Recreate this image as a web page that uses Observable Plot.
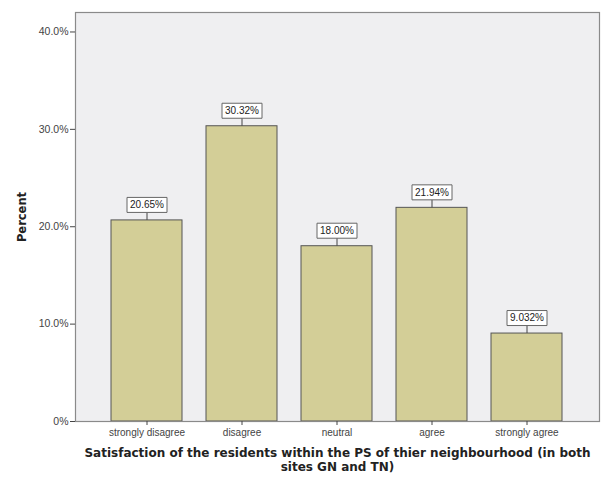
<!DOCTYPE html>
<html>
<head>
<meta charset="utf-8">
<script src="https://cdn.jsdelivr.net/npm/d3@7"></script>
<script src="https://cdn.jsdelivr.net/npm/@observablehq/plot@0.6"></script>
<style>
  html, body { margin: 0; padding: 0; background: #fff; }
  svg { display: block; font-family: "Liberation Sans", Arial, sans-serif; }
</style>
</head>
<body>
<div id="chart"></div>
<script>
const categories = ["strongly disagree", "disagree", "neutral", "agree", "strongly agree"];
const values = [20.65, 30.32, 18.00, 21.94, 9.032];
const valueLabels = ["20.65%", "30.32%", "18.00%", "21.94%", "9.032%"];
const yTicks = [0, 10, 20, 30, 40];
const yTickLabels = ["0%", "10.0%", "20.0%", "30.0%", "40.0%"];
const xTitle = "Satisfaction of the residents within the PS of thier neighbourhood (in both\nsites GN and TN)";
const yTitle = "Percent";

const data = categories.map((c, i) => ({cat: c, value: values[i], label: valueLabels[i]}));

const boxSymbol = {
  draw(context) {
    context.moveTo(-20, -7.5);
    context.lineTo(20, -7.5);
    context.lineTo(20, 7.5);
    context.lineTo(-20, 7.5);
    context.closePath();
  }
};

const chart = Plot.plot({
  width: 604,
  height: 479,
  marginLeft: 75,
  marginRight: 5,
  marginTop: 12,
  marginBottom: 58,
  style: {fontFamily: "'Liberation Sans', Arial, sans-serif", background: "#ffffff"},
  x: {domain: categories, paddingInner: 0.25, paddingOuter: 0.375, label: null},
  y: {domain: [0, 42], label: null},
  marks: [
    Plot.frame({fill: "#efeff1", stroke: null}),
    Plot.barY(data, {x: "cat", y: "value", fill: "#d3ce97", stroke: "#555555", strokeWidth: 1}),
    Plot.ruleX(data, {x: "cat", y1: "value", y2: "value", insetTop: -8, stroke: "#444", strokeWidth: 1}),
    Plot.dot(data, {x: "cat", y: "value", dy: -15.5, symbol: boxSymbol, fill: "#ffffff", stroke: "#666666", strokeWidth: 1, r: 5}),
    Plot.text(data, {x: "cat", y: "value", dy: -15.5, text: "label", fontSize: 10, fill: "#222"}),
    Plot.frame({stroke: "#8a8a8a", strokeWidth: 1.2}),
    Plot.axisY({ticks: yTicks, tickFormat: d => yTickLabels[yTicks.indexOf(d)], tickSize: 5, tickPadding: 2, fontSize: 10.5, color: "#444", label: null}),
    Plot.axisX({tickSize: 4, tickPadding: 3, fontSize: 10, color: "#444", label: null}),
    Plot.text([yTitle], {frameAnchor: "left", textAnchor: "middle", rotate: -90, dx: -53, fontSize: 11.5, fontWeight: "bold", fontFamily: "'DejaVu Sans', Verdana, sans-serif", fill: "#222"}),
    Plot.text([xTitle], {frameAnchor: "bottom", lineAnchor: "top", dy: 26, lineHeight: 1.15, fontSize: 12, fontWeight: "bold", fontFamily: "'DejaVu Sans', Verdana, sans-serif", fill: "#222"})
  ]
});
document.getElementById("chart").appendChild(chart);
</script>
</body>
</html>
